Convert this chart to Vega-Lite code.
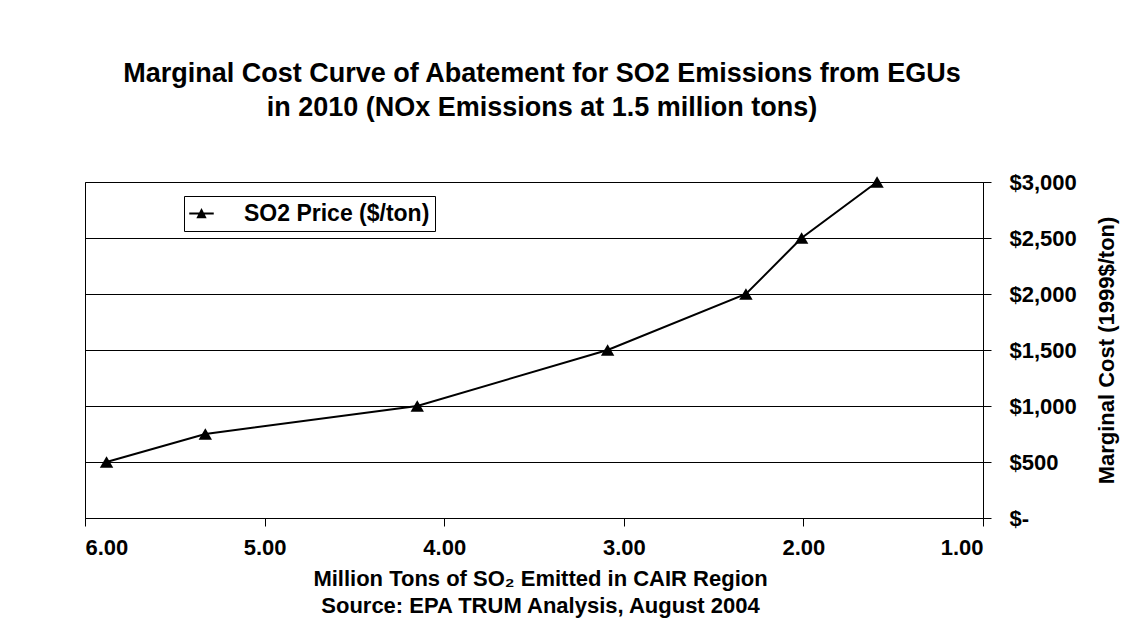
{
  "$schema": "https://vega.github.io/schema/vega-lite/v6.json",
  "autosize": {"type": "none"},
  "padding": {"left": 85, "top": 182, "right": 152, "bottom": 106},
  "width": 898,
  "height": 336,
  "background": "white",
  "title": {
    "text": ["Marginal Cost Curve of Abatement for SO2 Emissions from EGUs", "in 2010 (NOx Emissions at 1.5 million tons)"],
    "font": "Liberation Sans",
    "fontSize": 27,
    "fontWeight": "bold",
    "color": "black",
    "anchor": "middle",
    "dx": 8,
    "offset": 49,
    "lineHeight": 34
  },
  "data": {
    "values": [
      {"tons": 5.88, "price": 500, "series": "SO2 Price ($/ton)"},
      {"tons": 5.33, "price": 750, "series": "SO2 Price ($/ton)"},
      {"tons": 4.15, "price": 1000, "series": "SO2 Price ($/ton)"},
      {"tons": 3.09, "price": 1500, "series": "SO2 Price ($/ton)"},
      {"tons": 2.32, "price": 2000, "series": "SO2 Price ($/ton)"},
      {"tons": 2.01, "price": 2500, "series": "SO2 Price ($/ton)"},
      {"tons": 1.59, "price": 3000, "series": "SO2 Price ($/ton)"}
    ]
  },
  "encoding": {
    "x": {
      "field": "tons",
      "type": "quantitative",
      "scale": {"domain": [1, 6], "reverse": true, "nice": false, "zero": false},
      "axis": {
        "values": [1, 2, 3, 4, 5, 6],
        "format": ".2f",
        "grid": false,
        "domainColor": "black",
        "domainWidth": 1,
        "tickColor": "black",
        "tickSize": 8,
        "labelFont": "Liberation Sans",
        "labelFontSize": 22,
        "labelFontWeight": "bold",
        "labelColor": "black",
        "labelPadding": 11,
        "title": ["Million Tons of SO₂ Emitted in CAIR Region", "Source: EPA TRUM Analysis, August 2004"],
        "titleFont": "Liberation Sans",
        "titleFontSize": 22,
        "titleFontWeight": "bold",
        "titleColor": "black",
        "titleLineHeight": 27,
        "titleX": 455,
        "titleY": 67,
        "titleAlign": "center",
        "titleBaseline": "alphabetic"
      }
    },
    "y": {
      "field": "price",
      "type": "quantitative",
      "scale": {"domain": [0, 3000], "nice": false},
      "axis": {
        "orient": "right",
        "values": [0, 500, 1000, 1500, 2000, 2500, 3000],
        "labelExpr": "datum.value == 0 ? '$-' : '$' + format(datum.value, ',')",
        "grid": true,
        "gridColor": "black",
        "gridWidth": 1,
        "gridOpacity": 1,
        "domainColor": "black",
        "tickColor": "black",
        "tickSize": 8,
        "labelFont": "Liberation Sans",
        "labelFontSize": 22,
        "labelFontWeight": "bold",
        "labelColor": "black",
        "labelPadding": 18,
        "title": "Marginal Cost (1999$/ton)",
        "titleFont": "Liberation Sans",
        "titleFontSize": 22,
        "titleFontWeight": "bold",
        "titleColor": "black",
        "titleAngle": 270,
        "titleBaseline": "top",
        "titlePadding": 20
      }
    }
  },
  "layer": [
    {
      "mark": {"type": "line", "color": "black", "strokeWidth": 2}
    },
    {
      "mark": {"type": "point", "filled": true, "color": "black", "size": 180, "opacity": 1, "shape": "triangle-up"}
    },
    {
      "mark": {"type": "point", "filled": true, "color": "black", "size": 10, "opacity": 0},
      "encoding": {
        "shape": {
          "field": "series",
          "type": "nominal",
          "scale": {"range": ["M-1,-0.08H1V0.08H-1ZM0,-0.45L0.42,0.38L-0.42,0.38Z"]},
          "legend": {
            "title": null,
            "orient": "none",
            "legendX": 99,
            "legendY": 14,
            "strokeColor": "black",
            "fillColor": "white",
            "padding": 5,
            "symbolSize": 600,
            "symbolOpacity": 1,
            "symbolFillColor": "black",
            "symbolStrokeColor": "black",
            "symbolStrokeWidth": 0,
            "labelFont": "Liberation Sans",
            "labelFontSize": 23,
            "labelFontWeight": "bold",
            "labelColor": "black",
            "labelLimit": 0,
            "labelOffset": 30
          }
        }
      }
    }
  ],
  "config": {
    "view": {"stroke": "black", "strokeWidth": 1}
  }
}
